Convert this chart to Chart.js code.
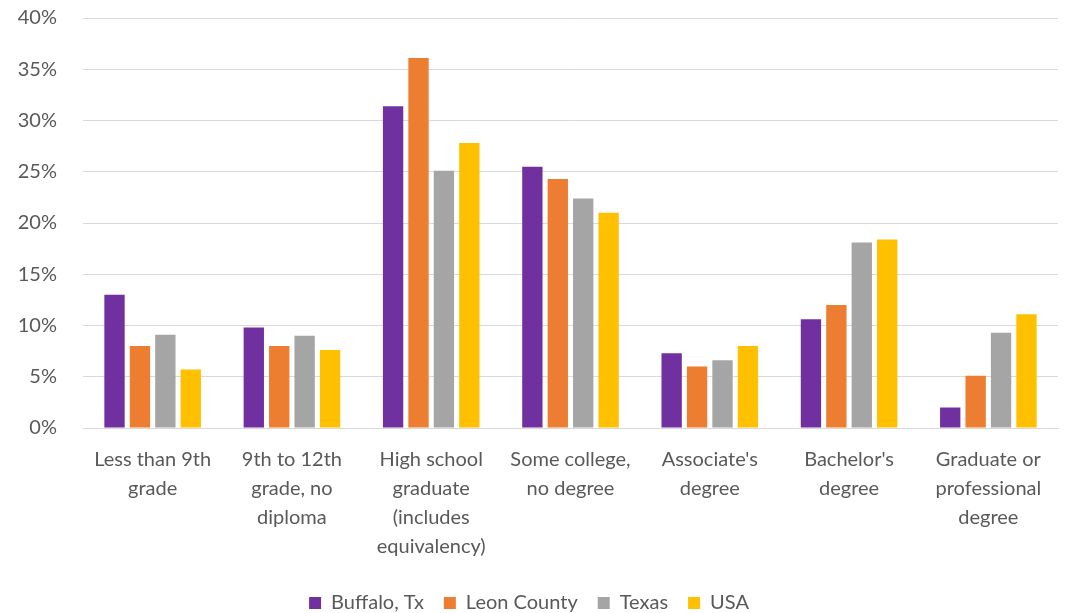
<!DOCTYPE html>
<html>
<head>
<meta charset="utf-8">
<script src="https://cdn.jsdelivr.net/npm/chart.js@4"></script>
<style>
  html, body { margin: 0; padding: 0; background: #fff; }
  #wrap { width: 1070px; height: 613px; }
</style>
</head>
<body>
<div id="wrap"><canvas id="chart"></canvas></div>
<script>
const categories = [
  ['Less than 9th', 'grade'],
  ['9th to 12th', 'grade, no', 'diploma'],
  ['High school', 'graduate', '(includes', 'equivalency)'],
  ['Some college,', 'no degree'],
  ["Associate's", 'degree'],
  ["Bachelor's", 'degree'],
  ['Graduate or', 'professional', 'degree']
];
const buffalo = [13.0, 9.8, 31.4, 25.5, 7.3, 10.6, 2.0];
const leon = [8.0, 8.0, 36.1, 24.3, 6.0, 12.0, 5.1];
const texas = [9.1, 9.0, 25.1, 22.4, 6.6, 18.1, 9.3];
const usa = [5.7, 7.6, 27.8, 21.0, 8.0, 18.4, 11.1];
const yTicks = [0, 5, 10, 15, 20, 25, 30, 35, 40];

const textColor = '#595959';
const font = { family: 'Lato, "Open Sans", sans-serif', size: 20 };

const ctx = document.getElementById('chart').getContext('2d');
new Chart(ctx, {
  type: 'bar',
  data: {
    labels: categories,
    datasets: [
      { label: 'Buffalo, Tx', data: buffalo, backgroundColor: '#7030a0' },
      { label: 'Leon County', data: leon, backgroundColor: '#ed7d31' },
      { label: 'Texas', data: texas, backgroundColor: '#a5a5a5' },
      { label: 'USA', data: usa, backgroundColor: '#ffc000' }
    ]
  },
  options: {
    responsive: true,
    maintainAspectRatio: false,
    animation: false,
    datasets: {
      bar: { categoryPercentage: 0.73, barPercentage: 0.8 }
    },
    layout: {
      padding: { top: 18, right: 12, left: 0, bottom: -10 }
    },
    plugins: {
      legend: {
        position: 'bottom',
        labels: {
          color: textColor,
          font: font,
          boxWidth: 12,
          boxHeight: 12,
          padding: 20
        }
      },
      tooltip: { enabled: false }
    },
    scales: {
      x: {
        grid: { display: false },
        border: { color: '#d9d9d9', width: 1 },
        ticks: {
          color: textColor,
          font: { ...font, lineHeight: 1.45 },
          maxRotation: 0,
          autoSkip: false,
          padding: 9
        },
        afterFit: (scale) => {
          scale.height = 145;
          scale.paddingLeft = 0;
          scale.paddingRight = 0;
        }
      },
      y: {
        min: 0,
        max: 40,
        afterBuildTicks: (scale) => { scale.ticks = yTicks.map(v => ({ value: v })); },
        afterFit: (scale) => {
          scale.width = 83;
          scale.paddingTop = 0;
          scale.paddingBottom = 0;
        },
        grid: { color: '#d9d9d9', lineWidth: 1, drawTicks: false },
        border: { display: false },
        ticks: {
          color: textColor,
          font: font,
          padding: 26,
          callback: (v) => v + '%'
        }
      }
    }
  }
});
</script>
</body>
</html>
